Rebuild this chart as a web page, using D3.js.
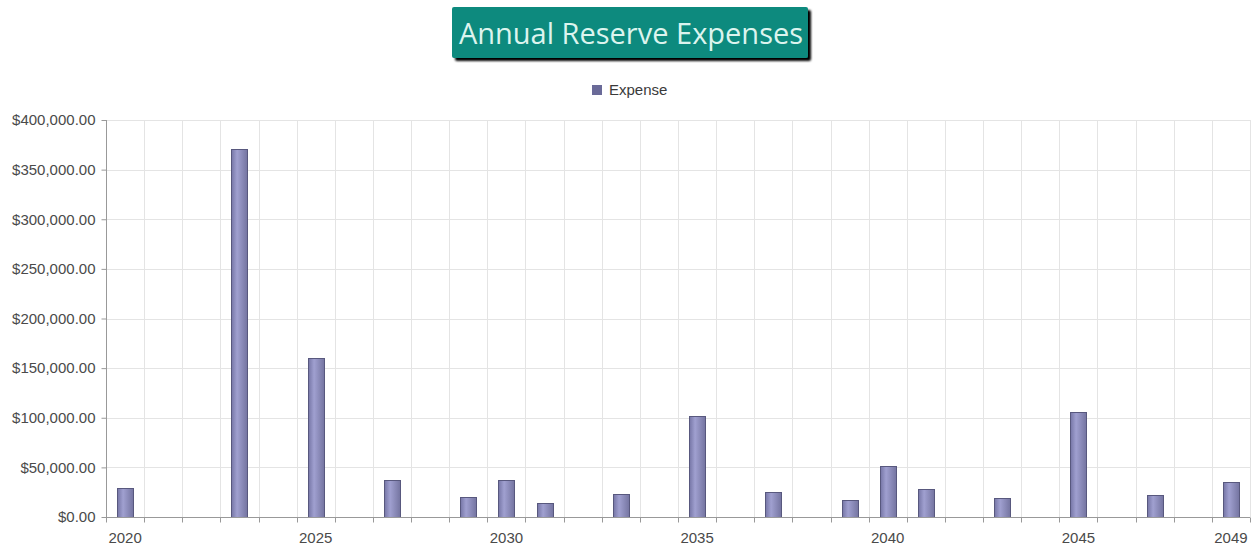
<!DOCTYPE html>
<html lang="en">
<head>
<meta charset="utf-8">
<title>Annual Reserve Expenses</title>
<style>
  body { margin: 0; background: #fff; }
  #chart { width: 1254px; height: 546px; }
</style>
</head>
<body>
<div id="chart"></div>
<script src="https://d3js.org/d3.v7.min.js"></script>
<script>
// years shown on the x axis
var years = d3.range(2020, 2050);
// years that have an expense, and the amounts
var expenseYears = [2020, 2023, 2025, 2027, 2029, 2030, 2031, 2033, 2035, 2037, 2039, 2040, 2041, 2043, 2045, 2047, 2049];
var expenseValues = [29000, 371000, 160000, 37000, 20500, 37500, 14000, 23000, 102000, 25500, 17000, 51000, 28000, 19000, 106000, 22000, 35000];
var yTicks = [0, 50000, 100000, 150000, 200000, 250000, 300000, 350000, 400000];
var xLabels = [2020, 2025, 2030, 2035, 2040, 2045, 2049];

var W = 1254, H = 546;
var margin = { left: 106, right: 4, top: 120, bottom: 29 };
var font = 'Arial, "Liberation Sans", sans-serif';

var svg = d3.select('#chart').append('svg')
  .attr('width', W).attr('height', H);

var defs = svg.append('defs');
var grad = defs.append('linearGradient').attr('id', 'barGrad')
  .attr('x1', '0%').attr('x2', '100%').attr('y1', '0%').attr('y2', '0%');
grad.append('stop').attr('offset', '0%').attr('stop-color', '#7676a6');
grad.append('stop').attr('offset', '35%').attr('stop-color', '#a0a0d0');
grad.append('stop').attr('offset', '100%').attr('stop-color', '#7474a0');

var filt = defs.append('filter').attr('id', 'shadow')
  .attr('x', '-5%').attr('y', '-10%').attr('width', '115%').attr('height', '130%');
filt.append('feGaussianBlur').attr('in', 'SourceAlpha').attr('stdDeviation', 1);
filt.append('feOffset').attr('dx', 3).attr('dy', 3).attr('result', 'o');
var fm = filt.append('feMerge');
fm.append('feMergeNode').attr('in', 'o');
fm.append('feMergeNode').attr('in', 'SourceGraphic');

// title box
var title = svg.append('g');
title.append('rect')
  .attr('x', 452).attr('y', 7).attr('width', 356).attr('height', 51)
  .attr('rx', 2)
  .attr('fill', '#0f8a7e')
  .attr('filter', 'url(#shadow)');
title.append('text')
  .attr('x', 631).attr('y', 44)
  .attr('text-anchor', 'middle')
  .attr('font-family', '"Open Sans", sans-serif')
  .attr('font-size', 29)
  .attr('fill', '#dcf4ee')
  .text('Annual Reserve Expenses');

// legend
var legend = svg.append('g').attr('transform', 'translate(592,85)');
legend.append('rect').attr('width', 10).attr('height', 10).attr('fill', '#6a6a98');
legend.append('text').attr('x', 17).attr('y', 10)
  .attr('font-family', font)
  .attr('font-size', 15).attr('fill', '#3a3a3a')
  .text('Expense');

var x = d3.scaleBand()
  .domain(years)
  .range([margin.left, W - margin.right]);

var y = d3.scaleLinear()
  .domain([0, 400000])
  .range([H - margin.bottom, margin.top]);

// grid
var grid = svg.append('g');
grid.selectAll('.h').data(yTicks).enter().append('line')
  .attr('x1', margin.left).attr('x2', W - margin.right)
  .attr('y1', function(d) { return Math.round(y(d)) + 0.5; })
  .attr('y2', function(d) { return Math.round(y(d)) + 0.5; })
  .attr('stroke', '#e4e4e4');
var bounds = years.map(function(d) { return x(d); }).concat([W - margin.right]);
grid.selectAll('.v').data(bounds.slice(1)).enter().append('line')
  .attr('x1', function(d) { return Math.round(d) + 0.5; })
  .attr('x2', function(d) { return Math.round(d) + 0.5; })
  .attr('y1', margin.top).attr('y2', y(0))
  .attr('stroke', '#e4e4e4');

// bars
var bw = 16;
svg.append('g').selectAll('rect')
  .data(expenseYears.map(function(d, i) { return { year: d, value: expenseValues[i] }; }))
  .enter().append('rect')
  .attr('x', function(d) { return Math.round(x(d.year) + x.bandwidth() / 2 - bw / 2) + 0.5; })
  .attr('y', function(d) { return Math.round(y(d.value)) + 0.5; })
  .attr('width', bw)
  .attr('height', function(d) { return Math.round(y(0)) - Math.round(y(d.value)); })
  .attr('fill', 'url(#barGrad)')
  .attr('stroke', '#58587e')
  .attr('stroke-width', 1);

// y axis
var yAxis = svg.append('g')
  .attr('transform', 'translate(' + (margin.left + 0.5) + ',0)')
  .call(d3.axisLeft(y).tickValues(yTicks).tickSize(5).tickPadding(6)
    .tickFormat(function(d) { return '$' + d3.format(',.2f')(d); }));
yAxis.select('.domain').attr('stroke', '#999').attr('d', 'M0,' + margin.top + 'V' + (y(0) + 0.5));
yAxis.selectAll('.tick line').attr('stroke', '#999');
yAxis.selectAll('text')
  .attr('font-family', font)
  .attr('font-size', 15).attr('fill', '#4a4a4a');

// x axis
var xa = svg.append('g').attr('transform', 'translate(0,' + (Math.round(y(0)) + 0.5) + ')');
xa.append('line').attr('x1', margin.left).attr('x2', W - margin.right)
  .attr('stroke', '#999');
xa.selectAll('.t').data(bounds).enter().append('line')
  .attr('x1', function(d) { return Math.round(d) + 0.5; })
  .attr('x2', function(d) { return Math.round(d) + 0.5; })
  .attr('y1', 0).attr('y2', 5)
  .attr('stroke', '#999');
xa.selectAll('text').data(xLabels).enter().append('text')
  .attr('x', function(d) { return x(d) + x.bandwidth() / 2; })
  .attr('y', 25)
  .attr('text-anchor', 'middle')
  .attr('font-family', font)
  .attr('font-size', 15).attr('fill', '#4a4a4a')
  .text(function(d) { return d; });
</script>
</body>
</html>
